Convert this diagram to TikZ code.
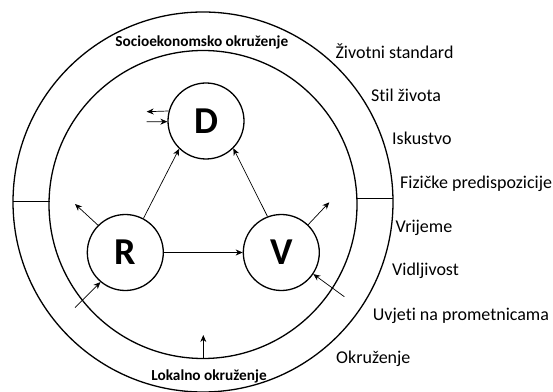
\documentclass[tikz,border=0pt]{standalone}
\usepackage{fontspec}
\setmainfont{Carlito}[Ligatures=NoCommon]
\usetikzlibrary{arrows.meta}

\tikzset{
  agent/.style={circle,draw,line width=1.3pt,minimum size=76pt,inner sep=0pt,font=\fontsize{38}{38}\selectfont\bfseries},
  arr/.style={-{Stealth[length=7pt,width=6pt]},line width=0.7pt},
  factor/.style={anchor=base west,inner sep=0pt,font=\fontsize{18}{18}\selectfont},
  zone/.style={anchor=base,inner sep=0pt,font=\fontsize{15.3}{15.3}\selectfont\bfseries}
}

\begin{document}
\begin{tikzpicture}[x=1pt,y=1pt]
    \useasboundingbox (0,0) rectangle (553,391);
    \draw[line width=1.3pt] (203,189) circle (190);
    \draw[line width=1.3pt] (203,186.5) circle (154);
    \draw[line width=1.3pt] (13,189.3) -- (49.5,189.3);
    \draw[line width=1.3pt] (356.5,192.7) -- (393,192.7);
    \node[agent] (D) at (206,270) {D};
    \node[agent] (R) at (125.3,138.5) {R};
    \node[agent] (V) at (281.3,138.5) {V};
    \coordinate (dl) at (146.7,279.3);
    \coordinate (dr) at (146.7,269.3);
    \coordinate (ro) at (75,187);
    \coordinate (ri) at (75,83.3);
    \coordinate (vo) at (329.3,188.7);
    \coordinate (vi) at (344.3,94.3);
    \coordinate (lb) at (203.3,32.7);
    \coordinate (lt) at (203.3,56);
    \draw[arr] (R.62.6) -- (D.226);
    \draw[arr] (V.111.7) -- (D.315);
    \draw[arr] (R.east) -- (V.west);
    \draw[arr] (D.165.8) -- (dl);
    \draw[arr] (dr) -- (D.181);
    \draw[arr] (R.135) -- (ro);
    \draw[arr] (ri) -- (R.230.6);
    \draw[arr] (V.46) -- (vo);
    \draw[arr] (vi) -- (V.326.5);
    \draw[arr] (lb) -- (lt);
    \node[zone] (soc) at (201.8,344.3) {Socioekonomsko okruženje};
    \node[zone] (lok) at (209,11) {Lokalno okruženje};
    \node[factor] (f1) at (335.3,332.7) {Životni standard};
    \node[factor] (f2) at (371,289.3) {Stil života};
    \node[factor] (f3) at (392,246) {Iskustvo};
    \node[factor] (f4) at (400,202.7) {Fizičke predispozicije};
    \node[factor] (f5) at (395.3,158.7) {Vrijeme};
    \node[factor] (f6) at (392,115.3) {Vidljivost};
    \node[factor] (f7) at (372.7,71) {Uvjeti na prometnicama};
    \node[factor] (f8) at (336,27.7) {Okruženje};
\end{tikzpicture}
\end{document}
